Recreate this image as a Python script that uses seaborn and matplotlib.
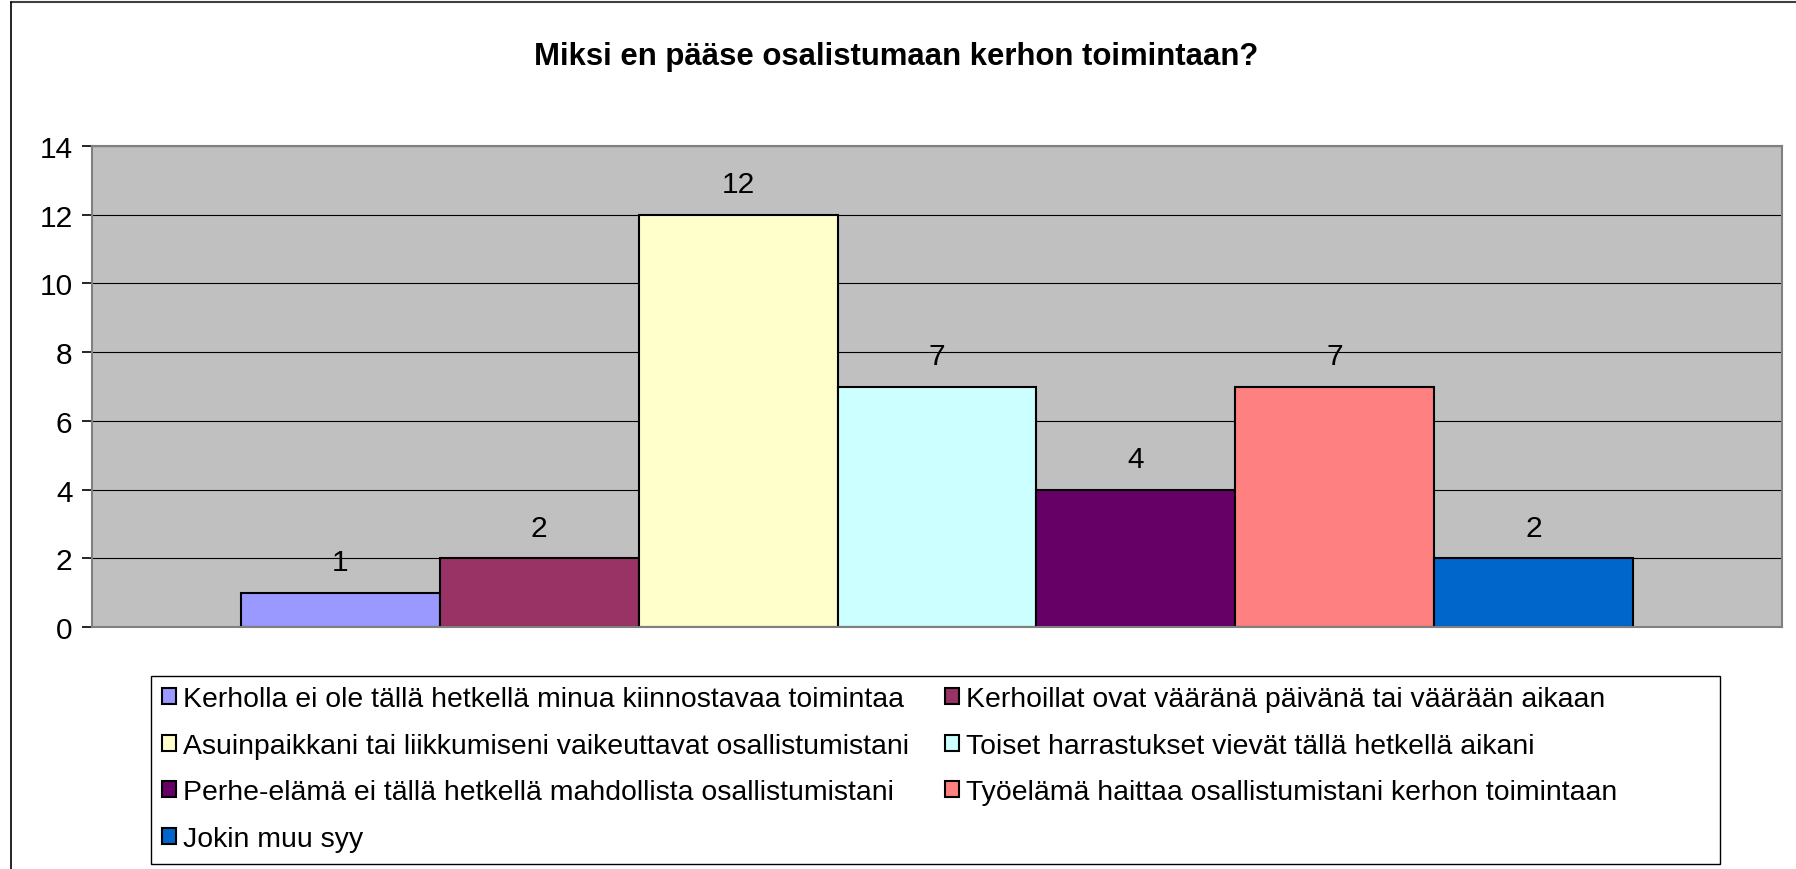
import matplotlib
matplotlib.use("Agg")
import matplotlib.pyplot as plt
from matplotlib.lines import Line2D
from matplotlib.patches import Rectangle
import seaborn as sns
import pandas as pd

# Survey answers: why members cannot take part in club activities
reasons = [
    "Kerholla ei ole tällä hetkellä minua kiinnostavaa toimintaa",
    "Kerhoillat ovat vääränä päivänä tai väärään aikaan",
    "Asuinpaikkani tai liikkumiseni vaikeuttavat osallistumistani",
    "Toiset harrastukset vievät tällä hetkellä aikani",
    "Perhe-elämä ei tällä hetkellä mahdollista osallistumistani",
    "Työelämä haittaa osallistumistani kerhon toimintaan",
    "Jokin muu syy",
]
counts = [1, 2, 12, 7, 4, 7, 2]
colors = ["#9999FF", "#993366", "#FFFFCC", "#CCFFFF", "#660066", "#FF8080", "#0066CC"]
y_ticks = [0, 2, 4, 6, 8, 10, 12, 14]
title = "Miksi en pääse osalistumaan kerhon toimintaan?"

df = pd.DataFrame({"ryhma": [""] * len(reasons), "syy": reasons, "maara": counts})

sns.set_theme(style="white")
plt.rcParams["font.family"] = ["Liberation Sans", "DejaVu Sans"]
plt.rcParams["text.color"] = "black"
plt.rcParams["xtick.color"] = "black"
plt.rcParams["ytick.color"] = "black"

W, H = 1796, 870
fig = plt.figure(figsize=(W / 100, H / 100), dpi=100)
ax = fig.add_axes([92 / W, 1 - 628 / H, (1782 - 92) / W, (628 - 147) / H])

sns.barplot(data=df, x="ryhma", y="maara", hue="syy", hue_order=reasons,
            palette=colors, width=0.824, edgecolor="black", linewidth=1.5,
            saturation=1, ax=ax)

ax.set_facecolor("#C0C0C0")
ax.set_ylim(0, 14)
ax.set_xlim(-0.5, 0.5)
ax.set_yticks(y_ticks)
ax.set_yticklabels([str(t) for t in y_ticks], fontsize=21.5, color="black")
ax.set_xticks([])
ax.set_xlabel("")
ax.set_ylabel("")
ax.tick_params(axis="y", which="major", length=7, width=1.2, color="#000000",
               direction="out", pad=7, left=True)
ax.yaxis.grid(True, color="black", linewidth=0.8)
ax.set_axisbelow(True)
for side in ["top", "right", "bottom", "left"]:
    ax.spines[side].set_visible(True)
    ax.spines[side].set_color("#808080")
    ax.spines[side].set_linewidth(1.5)

for cont in ax.containers:
    ax.bar_label(cont, fmt="%d", padding=12, fontsize=21.5, color="black")

# Legend: two columns, filled row by row
handles, labels = ax.get_legend_handles_labels()
if ax.get_legend() is not None:
    ax.get_legend().remove()
order = [0, 2, 4, 6, 1, 3, 5]
for h in handles:
    h.set_edgecolor("black")
    h.set_linewidth(1.5)
fig.legend([handles[i] for i in order], [labels[i] for i in order],
           ncol=2, loc="upper left", bbox_to_anchor=(162 / W, 1 - 687 / H),
           frameon=False, fontsize=20.4, handlelength=0.5, handleheight=0.5,
           handletextpad=0.25, columnspacing=1.27, labelspacing=0.73,
           borderaxespad=0, borderpad=0, labelcolor="black")
fig.patches.append(Rectangle((151 / W, 1 - 865 / H), (1720 - 151) / W, (865 - 677) / H,
                             transform=fig.transFigure, fill=False,
                             edgecolor="black", linewidth=1.0))

fig.text(896 / W, 1 - 65 / H, title, ha="center", va="baseline",
         fontsize=22.4, fontweight="bold", color="black")

# Outer chart frame
fig.lines.append(Line2D([11 / W, 1], [1 - 2.5 / H, 1 - 2.5 / H],
                        transform=fig.transFigure, color="#404040", linewidth=1.5))
fig.lines.append(Line2D([11 / W, 11 / W], [0, 1 - 2.5 / H],
                        transform=fig.transFigure, color="black", linewidth=1.2))

fig.savefig("out.png", dpi=100)
